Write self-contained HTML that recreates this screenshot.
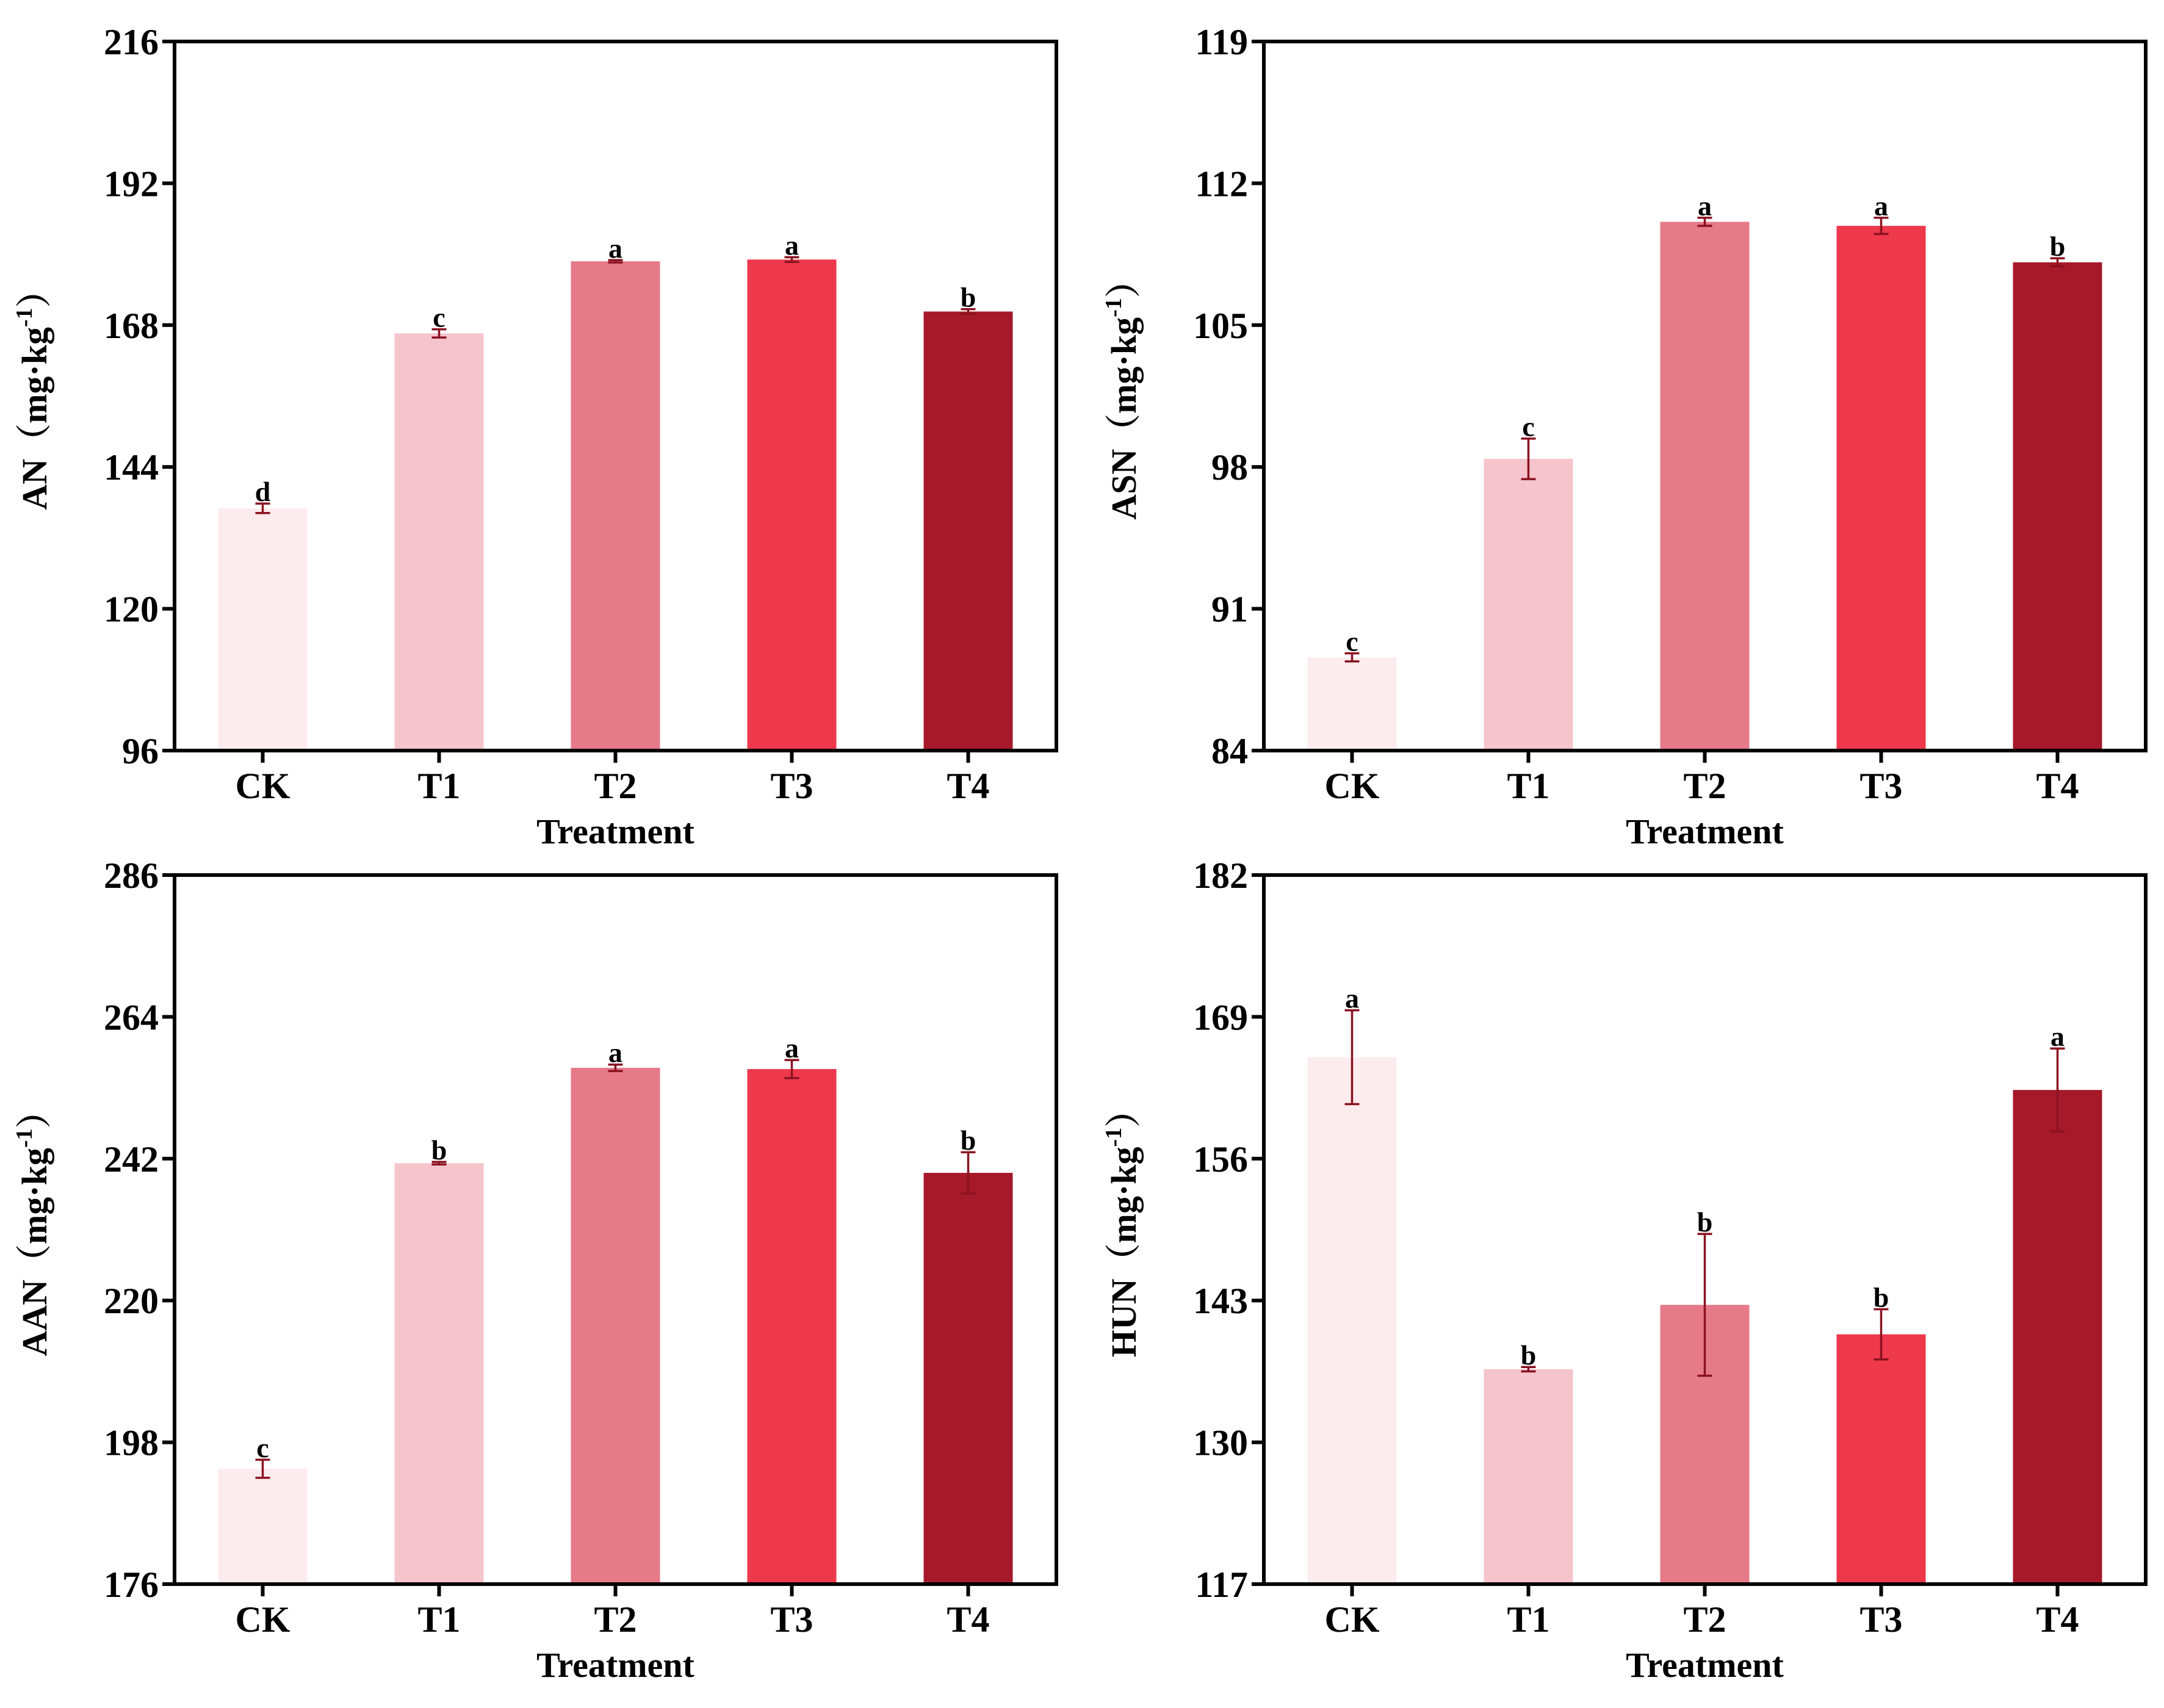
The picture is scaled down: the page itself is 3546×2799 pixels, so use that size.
<!DOCTYPE html>
<html><head><meta charset="utf-8"><style>
html,body{margin:0;padding:0;background:#fff;}
svg{display:block;font-family:"Liberation Serif","Noto Serif CJK SC",serif;font-weight:bold;}
</style></head><body>
<svg id="fig" width="3546" height="2799" viewBox="0 0 3546 2799" xmlns="http://www.w3.org/2000/svg"></svg>
<script>
const categories = ["CK","T1","T2","T3","T4"];
const colors = ["#fdecee","#f6c4cc","#e57a89","#ee384b","#a6192a"];
const anValues = [137.0,166.6,178.8,179.1,170.3];
const anErrors = [0.8,0.7,0.2,0.4,0.4];
const anLetters = ["d","c","a","a","b"];
const anTicks = [96,120,144,168,192,216];
const asnValues = [88.6,98.4,110.1,109.9,108.1];
const asnErrors = [0.2,1.0,0.2,0.4,0.2];
const asnLetters = ["c","c","a","a","b"];
const asnTicks = [84,91,98,105,112,119];
const aanValues = [193.9,241.3,256.1,255.9,239.8];
const aanErrors = [1.4,0.2,0.5,1.4,3.2];
const aanLetters = ["c","b","a","a","b"];
const aanTicks = [176,198,220,242,264,286];
const hunValues = [165.3,136.7,142.6,139.9,162.3];
const hunErrors = [4.3,0.2,6.5,2.3,3.8];
const hunLetters = ["a","b","b","b","a"];
const hunTicks = [117,130,143,156,169,182];

const NS = "http://www.w3.org/2000/svg";
const svg = document.getElementById("fig");
function mk(tag, attrs, parent, text){
  const e = document.createElementNS(NS, tag);
  for (const k in attrs) e.setAttribute(k, attrs[k]);
  if (text !== undefined) e.textContent = text;
  parent.appendChild(e);
  return e;
}
function panel(id, x0, y0, label, values, errors, letters, ticks){
  const W = 1445, H = 1162;
  const g = mk("g", {}, svg);
  
  
  const ymin = ticks[0], ymax = ticks[ticks.length-1];
  const yS = v => y0 + H - (v - ymin) / (ymax - ymin) * H;
  const xS = i => x0 + (i + 0.5) * W / categories.length;
  const bw = 146;
  values.forEach((v, i) => {
    const b = mk("rect", {x: xS(i) - bw/2, y: yS(v), width: bw, height: y0 + H - yS(v), fill: colors[i]}, g);
    
    
    const top = yS(v + errors[i]), bot = yS(v - errors[i]), cx = xS(i);
    const eb = mk("path", {d: `M${cx},${top}V${bot}M${cx-12},${top}H${cx+12}M${cx-12},${bot}H${cx+12}`, stroke: "#8b1220", "stroke-width": 3.5, fill: "none"}, g);
    
    
    const t = mk("text", {x: cx, y: top - 4, "text-anchor": "middle", "font-size": 46, fill: "#000"}, g, letters[i]);
    
    
    const tk = mk("line", {x1: cx, x2: cx, y1: y0 + H, y2: y0 + H + 20, stroke: "#000", "stroke-width": 6}, g);
    
    
    const xl = mk("text", {x: cx, y: y0 + H + 78, "text-anchor": "middle", "font-size": 60}, g, categories[i]);
    
    
  });
  ticks.forEach(tv => {
    const y = yS(tv);
    const tk = mk("line", {x1: x0 - 20, x2: x0, y1: y, y2: y, stroke: "#000", "stroke-width": 6}, g);
    
    
    const yl = mk("text", {x: x0 - 26, y: y + 21, "text-anchor": "end", "font-size": 60}, g, String(tv));
    
    
  });
  const fr = mk("rect", {x: x0, y: y0, width: W, height: H, fill: "none", stroke: "#000", "stroke-width": 6}, g);
  
  
  const xt = mk("text", {x: x0 + W/2, y: y0 + H + 152, "text-anchor": "middle", "font-size": 58}, g, "Treatment");
  
  
  const cy = y0 + H/2 - 8, tx = x0 - 210;
  const yt = mk("text", {x: 0, y: 0, "text-anchor": "middle", "font-size": 58, transform: `translate(${tx},${cy}) rotate(-90)`}, g);
  
  
  mk("tspan", {}, yt, label + "（mg·kg");
  mk("tspan", {dy: -24, "font-size": 38}, yt, "-1");
  mk("tspan", {dy: 24}, yt, "）");
}
panel("an", 286, 68, "AN", anValues, anErrors, anLetters, anTicks);
panel("asn", 2071, 68, "ASN", asnValues, asnErrors, asnLetters, asnTicks);
panel("aan", 286, 1434, "AAN", aanValues, aanErrors, aanLetters, aanTicks);
panel("hun", 2071, 1434, "HUN", hunValues, hunErrors, hunLetters, hunTicks);
</script>
</body></html>
